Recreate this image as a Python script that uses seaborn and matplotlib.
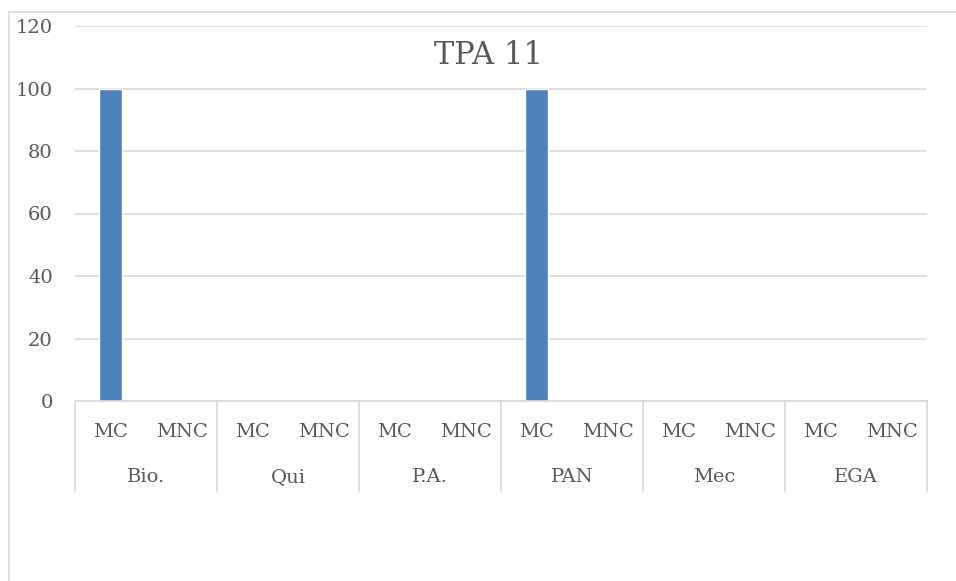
import pandas as pd
import seaborn as sns
import matplotlib.pyplot as plt
from matplotlib.lines import Line2D
import matplotlib.transforms as mtransforms

# data
groups = ['Bio.', 'Qui', 'P.A.', 'PAN', 'Mec', 'EGA']
subs = ['MC', 'MNC']
mc_values = [100, 0, 0, 100, 0, 0]
mnc_values = [0, 0, 0, 0, 0, 0]
y_ticks = [0, 20, 40, 60, 80, 100, 120]

rows = []
for g, mc, mnc in zip(groups, mc_values, mnc_values):
    rows.append({'slot': f'{g} MC', 'group': g, 'sub': 'MC', 'value': mc})
    rows.append({'slot': f'{g} MNC', 'group': g, 'sub': 'MNC', 'value': mnc})
df = pd.DataFrame(rows)
order = list(df['slot'])

sns.set_style('white')
plt.rcParams['font.family'] = ['DejaVu Serif']

text_col = '#595959'
grid_col = '#D9D9D9'
bar_col = '#4F81BD'

W, H = 956, 581
fig = plt.figure(figsize=(W / 100, H / 100), dpi=100)
ax = fig.add_axes([75 / W, 1 - 401 / H, (927 - 75) / W, (401 - 26) / H])

sns.barplot(data=df, x='slot', y='value', order=order, color=bar_col,
            saturation=1, width=0.31, ax=ax)

ax.set_ylim(0, 120)
ax.set_xlim(-0.5, len(order) - 0.5)
ax.set_yticks(y_ticks)
ax.set_yticklabels([str(t) for t in y_ticks], fontsize=14, color=text_col)
ax.tick_params(axis='y', length=0, pad=16)
ax.set_xticks([])
ax.set_xlabel('')
ax.set_ylabel('')
ax.set_axisbelow(True)
ax.yaxis.grid(True, color=grid_col, linewidth=1.2)

for s in ['left', 'right', 'top']:
    ax.spines[s].set_visible(False)
ax.spines['bottom'].set_color(grid_col)
ax.spines['bottom'].set_linewidth(1.2)

trans = mtransforms.blended_transform_factory(ax.transData, ax.transAxes)
h = 401 - 26
for i, slot in enumerate(order):
    ax.text(i, -31 / h, df['sub'][i], transform=trans, ha='center', va='center',
            fontsize=14, color=text_col)
for j, g in enumerate(groups):
    ax.text(2 * j + 0.5, -76 / h, g, transform=trans, ha='center', va='center',
            fontsize=14, color=text_col)
for j in range(len(groups) + 1):
    ax.add_line(Line2D([2 * j - 0.5, 2 * j - 0.5], [0, -90 / h], transform=trans,
                       color=grid_col, linewidth=1.2, clip_on=False))

fig.text(488 / W, 1 - 55 / H, 'TPA 11', ha='center', va='center',
         fontsize=22, color=text_col)

# outer chart frame (left and top edges visible)
fig.add_artist(Line2D([9 / W, 9 / W], [0, 1 - 12 / H], transform=fig.transFigure,
                      color=grid_col, linewidth=1.2))
fig.add_artist(Line2D([9 / W, 1], [1 - 12 / H, 1 - 12 / H], transform=fig.transFigure,
                      color=grid_col, linewidth=1.2))

fig.savefig('out.png', dpi=100)
